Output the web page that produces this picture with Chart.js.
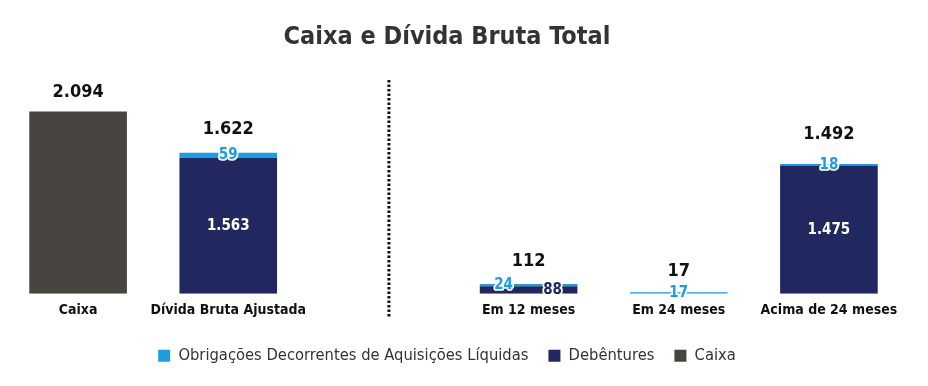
<!DOCTYPE html>
<html><head><meta charset="utf-8">
<script src="https://cdn.jsdelivr.net/npm/chart.js@4/dist/chart.umd.min.js"></script>
<style>html,body{margin:0;padding:0;background:#fff}#wrap{width:928px;height:386px}</style>
</head><body><div id="wrap"><canvas id="c" width="928" height="386"></canvas></div>
<script>
// ---- data ----
const categories = ['Caixa', 'Dívida Bruta Ajustada', '', 'Em 12 meses', 'Em 24 meses', 'Acima de 24 meses'];
const debentures = [null, 1563, null, 88, null, 1475];
const obrigacoes = [null, 59, null, 24, 17, 18];
const caixa      = [2094, null, null, null, null, null];
const totals     = [2094, 1622, null, 112, 17, 1492];

// ---- style ----
const FONT = '"DejaVu Sans Condensed", "DejaVu Sans", sans-serif';
const C_OBR = '#1c9de2', C_DEB = '#20285f', C_CX = '#48443f';
const totalOffsets = [19, 23, 0, 23, 21, 30];
const innerNudge = { 0: {3: 24}, 1: {3: -25} };

const fmt = v => String(v).replace(/\B(?=(\d{3})+(?!\d))/g, '.');

const shiftPlugin = {
  id: 'shift',
  afterLayout(chart) {
    const dx = -6.5;
    [chart.titleBlock, chart.legend].forEach(b => { if (b) { b.left += dx; b.right += dx; } });
  }
};

const dividerPlugin = {
  id: 'divider',
  afterDatasetsDraw(chart) {
    const {ctx, chartArea} = chart;
    const x = chart.scales.x.getPixelForValue(2) + 10.5;
    ctx.save();
    ctx.strokeStyle = '#111';
    ctx.lineWidth = 3;
    ctx.setLineDash([2.5, 2]);
    ctx.beginPath();
    ctx.moveTo(x, chartArea.top + 18);
    ctx.lineTo(x, chartArea.bottom + 24);
    ctx.stroke();
    ctx.restore();
  }
};

const labelPlugin = {
  id: 'labels',
  afterDatasetsDraw(chart) {
    const {ctx} = chart;
    ctx.save();
    ctx.textAlign = 'center';
    ctx.textBaseline = 'middle';
    ctx.lineJoin = 'round';
    const tops = [];
    chart.data.datasets.forEach((ds, di) => {
      const meta = chart.getDatasetMeta(di);
      meta.data.forEach((el, i) => {
        const v = ds.data[i];
        if (v == null) return;
        tops[i] = tops[i] == null ? el.y : Math.min(tops[i], el.y);
        if (ds.label === 'Caixa') return;
        const h = Math.abs(el.base - el.y);
        const cx = el.x + ((innerNudge[di] && innerNudge[di][i]) || 0);
        const cy = (el.y + el.base) / 2;
        const t = fmt(v);
        ctx.font = 'bold 15px ' + FONT;
        if (h > 24) {
          ctx.fillStyle = '#fff';
          ctx.fillText(t, cx, cy);
        } else {
          ctx.lineWidth = 3.5;
          ctx.strokeStyle = '#fff';
          ctx.strokeText(t, cx, cy);
          ctx.fillStyle = ds.backgroundColor;
          ctx.fillText(t, cx, cy);
        }
      });
    });
    ctx.font = 'bold 18px ' + FONT;
    ctx.fillStyle = '#111';
    totals.forEach((v, i) => {
      if (v == null || tops[i] == null) return;
      const x = chart.scales.x.getPixelForValue(i);
      ctx.fillText(fmt(v), x, tops[i] - totalOffsets[i]);
    });
    ctx.restore();
  }
};

const rank = [1, 0, 2];
new Chart(document.getElementById('c'), {
  type: 'bar',
  data: {
    labels: categories,
    datasets: [
      {label: 'Debêntures', data: debentures, backgroundColor: C_DEB},
      {label: 'Obrigações Decorrentes de Aquisições Líquidas', data: obrigacoes, backgroundColor: C_OBR},
      {label: 'Caixa', data: caixa, backgroundColor: C_CX}
    ]
  },
  options: {
    responsive: false,
    animation: false,
    barPercentage: 0.65,
    categoryPercentage: 1,
    layout: {padding: {left: 3, right: 24, top: 0, bottom: 12}},
    plugins: {
      title: {display: true, text: 'Caixa e Dívida Bruta Total', color: '#333',
        font: {family: FONT, size: 25, weight: 'bold'}, padding: {top: 22, bottom: 10}},
      legend: {position: 'bottom',
        labels: {boxWidth: 12, boxHeight: 12, color: '#333', font: {family: FONT, size: 16.4}, padding: 20,
          sort: (a, b) => rank[a.datasetIndex] - rank[b.datasetIndex]}},
      tooltip: {enabled: false}
    },
    scales: {
      x: {stacked: true, grid: {display: false, drawTicks: false}, border: {display: false},
        ticks: {color: '#111', font: {family: FONT, size: 14, weight: 'bold'}, padding: 8.5, maxRotation: 0, autoSkip: false},
        afterFit(s) { s.height += 0; }},
      y: {stacked: true, display: false, min: 0, max: 2664}
    }
  },
  plugins: [shiftPlugin, dividerPlugin, labelPlugin]
});
</script></body></html>
